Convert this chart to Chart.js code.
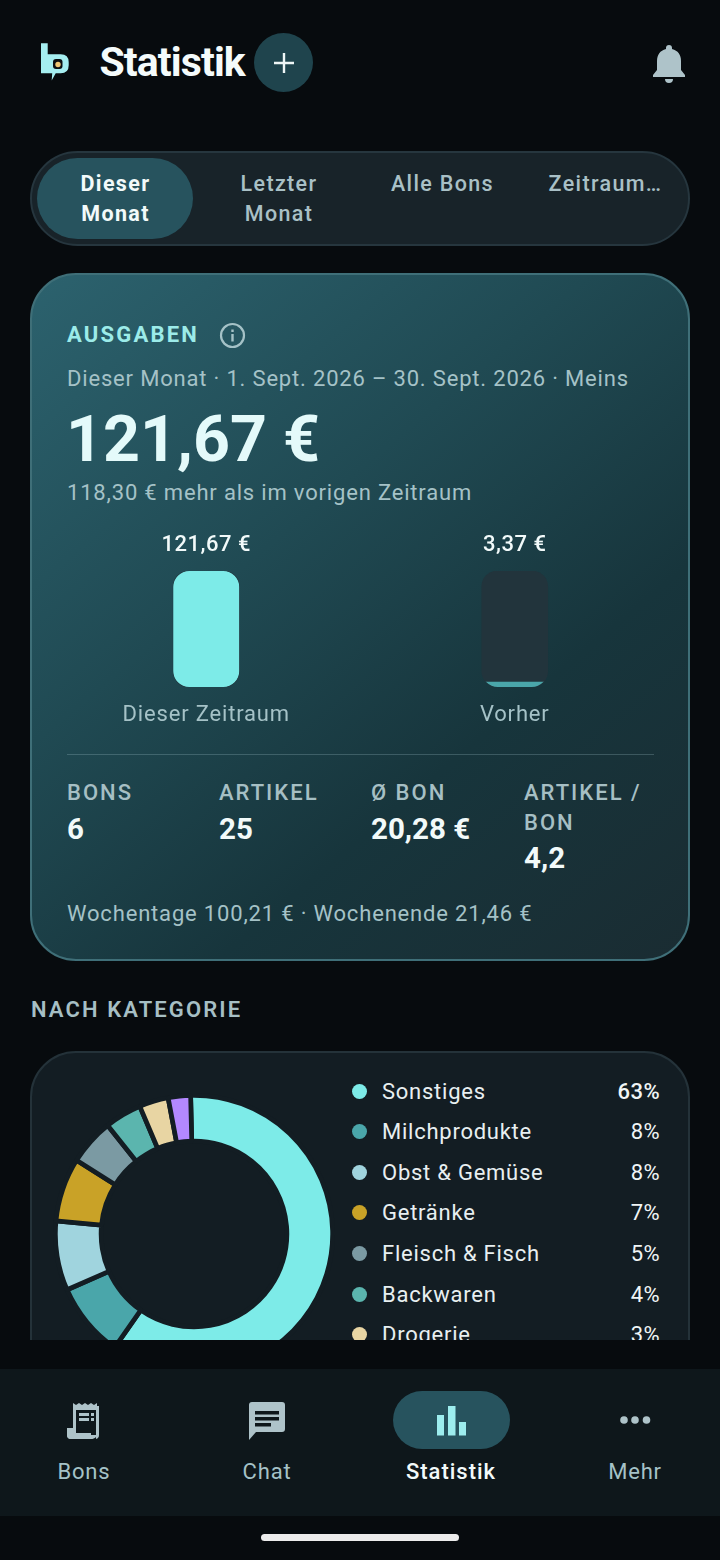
<!DOCTYPE html>
<html lang="de"><head><meta charset="utf-8">
<script src="https://cdn.jsdelivr.net/npm/chart.js@4"></script>
<style>
*{box-sizing:border-box}
html,body{margin:0;padding:0;background:#070b0e}
#app{position:relative;width:720px;height:1560px;overflow:hidden;background:#070b0e;font-family:Roboto,sans-serif}
.t{position:absolute;white-space:nowrap;line-height:1}
.c{transform:translateX(-50%);text-align:center}
.abs{position:absolute}
.sub{color:#a5c2c7;font-size:22px;letter-spacing:.82px}
.lab{color:#a6bfc4;font-size:22px;font-weight:500;letter-spacing:2px}
.val{color:#f2fafa;font-size:29.5px;font-weight:700}
#scroll{position:absolute;left:0;top:0;width:720px;height:1340px;overflow:hidden}
#seg{left:30px;top:151px;width:660px;height:95px;border-radius:48px;background:#182329;border:2px solid #26363e}
#pill{left:37px;top:158px;width:156px;height:81px;border-radius:41px;background:#27535e}
.tab{font-size:21.5px;font-weight:500;color:#a9c0c6;letter-spacing:1.35px;line-height:29.5px}
#card{left:30px;top:273px;width:660px;height:688px;border-radius:46px;border:2px solid #3f6f78;background:linear-gradient(140deg,#2c626e 0%,#204a53 38%,#17353c 68%,#1a2c32 100%)}
#card2{left:30px;top:1051px;width:660px;height:500px;border-radius:46px;border:2px solid #243239;background:#131d23}
#nav{left:0;top:1369px;width:720px;height:147px;background:#0e171b}
</style></head><body>
<div id="app">
<div id="scroll">
  <svg class="abs" style="left:38px;top:41px" width="34" height="42" viewBox="0 0 34 42">
    <path fill="#a5eef0" d="M3 2.300h6.700v11h13q8 0 8 8v3q0 8-8 8h-5l-4 7.200 .5-7.200H3z"/>
    <rect x="15" y="18" width="9.500" height="10" rx="3" fill="#0b0f12"/><circle cx="20" cy="23.500" r="2.700" fill="#f0c674"/>
  </svg>
  <div class="t" style="left:99.500px;top:42px;font-size:41px;font-weight:700;color:#f4fbfb;letter-spacing:-.9px">Statistik</div>
  <div class="abs" style="left:254px;top:33px;width:59px;height:59px;border-radius:50%;background:#1f444d"></div>
  <svg class="abs" style="left:272px;top:51px" width="24" height="24" viewBox="0 0 24 24"><path d="M12 2v20M2 12h20" stroke="#eef6f6" stroke-width="2.4" fill="none"/></svg>
  <svg class="abs" style="left:650px;top:43px" width="38" height="40" viewBox="0 0 38 40"><path fill="#aec3c9" d="M19 2a3 3 0 0 1 3 3v1c6 1.500 9 6 9 12v9l4 5v2H3v-2l4-5v-9c0-6 3-10.500 9-12V5a3 3 0 0 1 3-3zM15 36h8a4 4 0 0 1-8 0z"/></svg>

  <div id="seg" class="abs"></div><div id="pill" class="abs"></div>
  <div class="t c tab" style="left:115.500px;top:169px;color:#f2fafa;font-weight:700">Dieser<br>Monat</div>
  <div class="t c tab" style="left:279px;top:169px">Letzter<br>Monat</div>
  <div class="t c tab" style="left:442.500px;top:169px">Alle Bons</div>
  <div class="t c tab" style="left:605.500px;top:169px">Zeitraum…</div>

  <div id="card" class="abs"></div>
  <div class="t" style="left:67px;top:324px;font-size:22px;font-weight:700;letter-spacing:2.2px;color:#9cebe9">AUSGABEN</div>
  <svg class="abs" style="left:219px;top:322px" width="27" height="27" viewBox="0 0 27 27"><circle cx="13.500" cy="13.500" r="11.500" fill="none" stroke="#a5c2c7" stroke-width="2.200"/><path d="M13.500 12v7.500M13.500 7.500v2.500" stroke="#a5c2c7" stroke-width="2.400"/></svg>
  <div class="t sub" style="left:67px;top:368px">Dieser Monat · 1. Sept. 2026 – 30. Sept. 2026 · Meins</div>
  <div class="t" style="left:66px;top:407px;font-size:64.500px;font-weight:700;color:#e4fafa">121,67 €</div>
  <div class="t sub" style="left:67px;top:482px">118,30 € mehr als im vorigen Zeitraum</div>
  <div class="abs" style="left:51.500px;top:530px;width:617px;height:200px"><canvas id="bars"></canvas></div>
  <div class="abs" style="left:67px;top:754px;width:587px;height:1px;background:rgba(190,225,230,.22)"></div>
  <div class="t lab" style="left:67px;top:782px">BONS</div><div class="t val" style="left:67px;top:815px">6</div>
  <div class="t lab" style="left:219px;top:782px">ARTIKEL</div><div class="t val" style="left:219px;top:815px">25</div>
  <div class="t lab" style="left:371px;top:782px">Ø BON</div><div class="t val" style="left:371px;top:815px">20,28 €</div>
  <div class="t lab" style="left:524px;top:782px">ARTIKEL /</div><div class="t lab" style="left:524px;top:812px">BON</div><div class="t val" style="left:524px;top:844px">4,2</div>
  <div class="t sub" style="left:67px;top:903px">Wochentage 100,21 € · Wochenende 21,46 €</div>

  <div class="t lab" style="left:31px;top:999px;letter-spacing:2.1px;font-weight:600">NACH KATEGORIE</div>
  <div id="card2" class="abs"></div>
  <div class="abs" style="left:53px;top:1093px;width:282px;height:282px"><canvas id="donut"></canvas></div>
  <div id="legend"></div>
</div>

<div id="nav" class="abs"></div>
<svg class="abs" style="left:66px;top:1401px" width="36" height="40" viewBox="0 0 36 40"><path fill="#aec3c9" d="M7 2l3 2 3-2 3 2 3-2 3 2 3-2 3 2 3-2v31a5 5 0 0 1-5 5H5a4 4 0 0 1-4-4v-7h6z"/><path fill="#0e171b" d="M10 9h20v25H10z"/><path fill="#aec3c9" d="M7 9h3v23h15v2a5 5 0 0 0 2 4H5a4 4 0 0 1-4-4v-6h6zM13 12h10v3H13zM13 17h10v3H13zM25 12h3v3h-3zM25 17h3v3h-3z"/><path fill="#aec3c9" d="M30 5h3v29a4 4 0 0 1-3 4z"/></svg>
<svg class="abs" style="left:247px;top:1401px" width="40" height="40" viewBox="0 0 40 40"><path fill="#aec3c9" d="M5 1h30a3 3 0 0 1 3 3v24a3 3 0 0 1-3 3H9l-7 8V4a3 3 0 0 1 3-3z"/><path fill="#0e171b" d="M8 10h24v3.500H8zM8 16h24v3.500H8zM8 22h16v3.500H8z"/></svg>
<div class="abs" style="left:393px;top:1391px;width:117px;height:58px;border-radius:29px;background:#27535e"></div>
<svg class="abs" style="left:435px;top:1404px" width="33" height="33" viewBox="0 0 33 33"><path fill="#9dedee" d="M2 11h7v20.500H2zM13 2h7.500v29.500H13zM24 18h7v13.500h-7z"/></svg>
<svg class="abs" style="left:618px;top:1412px" width="34" height="16" viewBox="0 0 34 16"><g fill="#aec3c9"><circle cx="6" cy="8" r="3.800"/><circle cx="17" cy="8" r="3.800"/><circle cx="28.500" cy="8" r="3.800"/></g></svg>
<div class="t c sub" style="left:84px;top:1461px">Bons</div>
<div class="t c sub" style="left:267px;top:1461px">Chat</div>
<div class="t c sub" style="left:451px;top:1461px;color:#f2fafa;font-weight:500;letter-spacing:1px">Statistik</div>
<div class="t c sub" style="left:635px;top:1461px">Mehr</div>
<div class="abs" style="left:261px;top:1534px;width:198px;height:7px;border-radius:4px;background:#ececec"></div>
</div>
<script>
const periodLabels = ["Dieser Zeitraum", "Vorher"];
const periodValues = [121.67, 3.37];
const periodText = ["121,67 €", "3,37 €"];
const trackValues = [121.67, 121.67];
const periodColors = ["#7debe8", "#4aa6aa"];

const categories = ["Sonstiges","Milchprodukte","Obst & Gemüse","Getränke","Fleisch & Fisch","Backwaren","Drogerie","Sonstige Waren"];
const shownPercent = ["63%","8%","8%","7%","5%","4%","3%"];
const sliceShares = [60.1,8.7,8.1,7.4,5.4,4.3,3.4,2.6];
const sliceColors = ["#7debe8","#4aa6aa","#a0d4de","#c9a227","#7b9aa3","#5bb5ae","#e8d5a3","#b388ff"];

const legendBox = document.getElementById("legend");
shownPercent.forEach((p,i)=>{
  const y = 1091.5 + i*40.65;
  legendBox.insertAdjacentHTML("beforeend",
   `<div class="abs" style="left:352px;top:${y-8}px;width:15px;height:15px;border-radius:50%;background:${sliceColors[i]}"></div>
    <div class="t" style="left:382px;top:${y-11}px;font-size:22px;letter-spacing:.75px;color:#e8eff1">${categories[i]}</div>
    <div class="t" style="right:60px;top:${y-11}px;font-size:22px;letter-spacing:.4px;color:#f0f5f6;font-weight:${i==0?500:400}">${p}</div>`);
});

const spacingFont = {
  id:"spacingFont",
  beforeDraw(c){ c.ctx.letterSpacing="0.82px"; }
};
const barDecor = {
  id:"barDecor",
  beforeDatasetDraw(c,args){
    if(args.index!==1) return;
    c.ctx.save();
    c.ctx.beginPath();
    c.getDatasetMeta(0).data.forEach(t=>c.ctx.roundRect(t.x-t.width/2,t.y,t.width,t.base-t.y,16));
    c.ctx.clip();
  },
  afterDatasetDraw(c,args){ if(args.index===1) c.ctx.restore(); },
  afterDraw(c){
    const ctx=c.ctx, meta=c.getDatasetMeta(0);
    ctx.save();
    ctx.font='500 22px Roboto';ctx.fillStyle='#f2fafa';ctx.textAlign='center';ctx.textBaseline='middle';
    ctx.letterSpacing="0.5px";
    meta.data.forEach((el,i)=>ctx.fillText(periodText[i],el.x,c.scales.y.top-25.5));
    ctx.restore();
  }
};
new Chart(document.getElementById("bars"),{
  type:"bar",
  plugins:[spacingFont,barDecor],
  data:{labels:periodLabels,datasets:[
    {data:trackValues,backgroundColor:"#22343c",borderRadius:16,borderSkipped:false,barThickness:66,grouped:false,order:2},
    {data:periodValues,backgroundColor:periodColors,borderRadius:16,borderSkipped:false,barThickness:66,grouped:false,minBarLength:5,order:1}
  ]},
  options:{responsive:true,maintainAspectRatio:false,animation:false,
    layout:{padding:{top:41,left:0,right:0,bottom:0}},
    plugins:{legend:{display:false},tooltip:{enabled:false}},
    scales:{
      y:{display:false,min:0,max:121.67},
      x:{grid:{display:false},border:{display:false},
         afterFit(s){s.height=43},
         ticks:{color:"#a5c2c7",font:{family:"Roboto",size:22},padding:7,maxRotation:0}}
    }}
});
new Chart(document.getElementById("donut"),{
  type:"doughnut",
  data:{labels:categories,datasets:[{data:sliceShares,backgroundColor:sliceColors,borderWidth:4.7,borderColor:"#131d23",borderAlign:"center"}]},
  options:{responsive:true,maintainAspectRatio:false,animation:false,cutout:"67%",rotation:-1.4,
    layout:{padding:0},plugins:{legend:{display:false},tooltip:{enabled:false}}}
});
</script>
</body></html>
